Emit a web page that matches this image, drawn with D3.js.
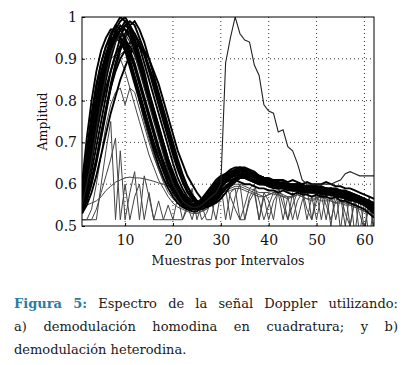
<!DOCTYPE html>
<html>
<head>
<meta charset="utf-8">
<script src="https://cdn.jsdelivr.net/npm/d3@7"></script>
<style>
  body { margin: 0; background: #fff; }
  text { font-family: "DejaVu Serif", serif; }
</style>
</head>
<body>
<div id="chart-area"></div>
<script>

var width = 405,
    height = 365;

// axis setup
var xDomain = [1, 62];
var yDomain = [0.5, 1];
var xTicks = [10, 20, 30, 40, 50, 60];
var yTicks = [0.5, 0.6, 0.7, 0.8, 0.9, 1];
var yTickLabels = ["0.5", "0.6", "0.7", "0.8", "0.9", "1"];

// main bundle of spectra (one value per sample, samples 1..62)
var band1 = [0.58,0.68,0.77,0.84,0.89,0.93,0.95,0.95,0.94,0.92,
  0.89,0.85,0.81,0.77,0.73,0.69,0.66,0.63,0.60,0.58,
  0.565,0.555,0.55,0.55,0.555,0.565,0.58,0.595,0.61,0.62,
  0.625,0.63,0.63,0.625,0.62,0.615,0.61,0.605,0.60,0.60,
  0.60,0.595,0.595,0.59,0.59,0.59,0.59,0.59,0.585,0.585,
  0.585,0.58,0.58,0.58,0.575,0.575,0.57,0.57,0.565,0.56,
  0.555,0.55];
var band2 = [0.56,0.63,0.71,0.78,0.84,0.89,0.93,0.96,0.98,0.97,
  0.95,0.92,0.88,0.84,0.80,0.76,0.72,0.68,0.64,0.61,
  0.585,0.565,0.55,0.545,0.545,0.55,0.56,0.575,0.59,0.60,
  0.61,0.62,0.625,0.625,0.62,0.615,0.61,0.605,0.60,0.60,
  0.595,0.595,0.59,0.59,0.59,0.585,0.585,0.59,0.59,0.585,
  0.585,0.58,0.58,0.575,0.575,0.57,0.57,0.565,0.56,0.56,
  0.555,0.545];
var band3 = [0.55,0.61,0.68,0.75,0.82,0.88,0.93,0.97,0.99,1.0,
  0.98,0.95,0.91,0.87,0.82,0.78,0.74,0.70,0.66,0.62,
  0.595,0.575,0.56,0.55,0.545,0.55,0.555,0.565,0.58,0.595,
  0.605,0.615,0.62,0.625,0.625,0.62,0.615,0.61,0.605,0.60,
  0.60,0.60,0.595,0.595,0.59,0.59,0.59,0.59,0.59,0.59,
  0.585,0.585,0.585,0.58,0.58,0.575,0.575,0.57,0.565,0.56,
  0.55,0.54];
var band4 = [0.53,0.56,0.60,0.65,0.71,0.77,0.83,0.88,0.92,0.95,
  0.97,0.96,0.94,0.91,0.87,0.83,0.79,0.75,0.71,0.67,
  0.635,0.605,0.58,0.565,0.555,0.55,0.55,0.555,0.565,0.58,
  0.59,0.60,0.61,0.615,0.62,0.62,0.615,0.61,0.605,0.60,
  0.60,0.595,0.595,0.59,0.59,0.59,0.585,0.585,0.585,0.58,
  0.58,0.58,0.58,0.575,0.575,0.57,0.57,0.565,0.56,0.555,
  0.55,0.54];
var band5 = [0.54,0.57,0.61,0.66,0.72,0.78,0.83,0.87,0.90,0.92,
  0.94,0.94,0.93,0.91,0.88,0.85,0.81,0.77,0.73,0.69,
  0.65,0.62,0.595,0.575,0.56,0.55,0.545,0.55,0.56,0.575,
  0.59,0.605,0.615,0.625,0.63,0.63,0.625,0.62,0.615,0.61,
  0.605,0.60,0.60,0.595,0.595,0.59,0.59,0.59,0.59,0.59,
  0.59,0.585,0.585,0.585,0.58,0.58,0.575,0.57,0.57,0.565,
  0.56,0.555];
var band6 = [0.60,0.71,0.80,0.87,0.92,0.95,0.97,0.97,0.95,0.92,
  0.88,0.84,0.80,0.76,0.72,0.68,0.645,0.615,0.59,0.57,
  0.555,0.545,0.54,0.54,0.545,0.555,0.57,0.585,0.60,0.61,
  0.615,0.62,0.62,0.62,0.615,0.61,0.605,0.60,0.60,0.595,
  0.595,0.59,0.59,0.59,0.585,0.585,0.585,0.58,0.58,0.58,
  0.58,0.575,0.575,0.575,0.57,0.57,0.565,0.56,0.56,0.555,
  0.55,0.545];
var band7 = [0.54,0.59,0.65,0.72,0.79,0.85,0.90,0.94,0.97,0.99,
  0.98,0.96,0.93,0.89,0.85,0.81,0.77,0.73,0.69,0.65,
  0.615,0.59,0.57,0.56,0.555,0.555,0.56,0.57,0.585,0.60,
  0.615,0.625,0.635,0.64,0.64,0.635,0.63,0.62,0.615,0.61,
  0.605,0.605,0.60,0.60,0.60,0.60,0.595,0.595,0.595,0.595,
  0.59,0.59,0.59,0.585,0.585,0.58,0.58,0.575,0.57,0.565,
  0.56,0.55];
var band8 = [0.57,0.64,0.72,0.79,0.85,0.90,0.93,0.95,0.95,0.94,
  0.91,0.88,0.84,0.80,0.76,0.72,0.68,0.645,0.615,0.59,
  0.57,0.555,0.545,0.54,0.54,0.545,0.555,0.57,0.585,0.595,
  0.605,0.61,0.615,0.615,0.615,0.61,0.605,0.60,0.60,0.595,
  0.59,0.59,0.59,0.585,0.585,0.585,0.58,0.58,0.58,0.58,
  0.58,0.575,0.575,0.57,0.57,0.565,0.565,0.56,0.555,0.55,
  0.545,0.535];
var band9 = [0.55,0.58,0.63,0.69,0.75,0.81,0.87,0.91,0.95,0.98,
  0.99,0.98,0.95,0.92,0.88,0.84,0.80,0.76,0.72,0.68,
  0.64,0.61,0.585,0.57,0.56,0.555,0.555,0.56,0.575,0.59,
  0.605,0.615,0.625,0.63,0.635,0.63,0.625,0.62,0.615,0.61,
  0.61,0.605,0.605,0.60,0.60,0.60,0.60,0.595,0.595,0.595,
  0.595,0.59,0.59,0.59,0.585,0.585,0.58,0.575,0.57,0.565,
  0.56,0.555];
var band10 = [0.53,0.55,0.58,0.62,0.67,0.72,0.77,0.81,0.85,0.88,
  0.91,0.93,0.93,0.92,0.90,0.87,0.84,0.80,0.76,0.72,
  0.68,0.65,0.62,0.60,0.58,0.565,0.555,0.55,0.555,0.565,
  0.58,0.595,0.605,0.615,0.62,0.625,0.625,0.62,0.615,0.61,
  0.605,0.60,0.60,0.60,0.595,0.595,0.595,0.59,0.59,0.59,
  0.59,0.59,0.585,0.585,0.58,0.58,0.575,0.575,0.57,0.56,
  0.555,0.55];
var band11 = [0.57,0.65,0.73,0.80,0.86,0.91,0.94,0.96,0.96,0.95,
  0.92,0.89,0.85,0.81,0.77,0.73,0.69,0.655,0.625,0.60,
  0.58,0.56,0.55,0.545,0.545,0.55,0.56,0.575,0.59,0.605,
  0.615,0.625,0.63,0.635,0.635,0.63,0.625,0.62,0.615,0.61,
  0.605,0.60,0.60,0.60,0.595,0.595,0.59,0.59,0.59,0.59,
  0.585,0.585,0.585,0.58,0.58,0.575,0.575,0.57,0.565,0.56,
  0.555,0.55];
var band12 = [0.56,0.61,0.67,0.74,0.81,0.87,0.92,0.95,0.97,0.98,
  0.97,0.94,0.90,0.86,0.82,0.78,0.74,0.70,0.66,0.63,
  0.60,0.58,0.565,0.555,0.55,0.55,0.555,0.565,0.58,0.595,
  0.61,0.62,0.63,0.635,0.635,0.63,0.62,0.615,0.61,0.605,
  0.60,0.60,0.60,0.595,0.595,0.59,0.59,0.59,0.59,0.585,
  0.585,0.585,0.58,0.58,0.58,0.575,0.57,0.57,0.565,0.56,
  0.55,0.545];
var band13 = [0.55,0.62,0.69,0.76,0.83,0.88,0.92,0.95,0.97,0.97,
  0.96,0.93,0.89,0.85,0.81,0.77,0.73,0.69,0.65,0.62,
  0.59,0.57,0.555,0.55,0.55,0.555,0.565,0.58,0.595,0.61,
  0.62,0.63,0.635,0.64,0.635,0.63,0.625,0.62,0.615,0.615,
  0.61,0.61,0.61,0.605,0.61,0.605,0.60,0.605,0.60,0.60,
  0.60,0.605,0.60,0.595,0.595,0.59,0.59,0.585,0.58,0.575,
  0.57,0.565];
var band14 = [0.58,0.66,0.74,0.81,0.87,0.91,0.94,0.96,0.95,0.93,
  0.90,0.86,0.82,0.78,0.74,0.70,0.665,0.635,0.605,0.585,
  0.565,0.55,0.54,0.535,0.535,0.545,0.555,0.57,0.585,0.60,
  0.605,0.61,0.61,0.605,0.60,0.60,0.595,0.59,0.59,0.585,
  0.585,0.58,0.585,0.58,0.575,0.58,0.575,0.575,0.57,0.575,
  0.57,0.57,0.565,0.57,0.56,0.56,0.555,0.55,0.545,0.54,
  0.53,0.52];
var band15 = [0.54,0.57,0.61,0.66,0.72,0.78,0.84,0.89,0.93,0.96,
  0.98,0.99,0.97,0.94,0.90,0.86,0.82,0.78,0.74,0.70,
  0.66,0.625,0.595,0.575,0.56,0.55,0.545,0.55,0.56,0.575,
  0.59,0.60,0.61,0.62,0.625,0.625,0.62,0.615,0.61,0.61,
  0.605,0.60,0.605,0.60,0.595,0.60,0.595,0.59,0.595,0.59,
  0.59,0.585,0.59,0.585,0.58,0.58,0.575,0.57,0.565,0.56,
  0.55,0.545];
var band16 = [0.57,0.66,0.75,0.83,0.89,0.93,0.96,0.98,0.97,0.95,
  0.92,0.88,0.84,0.80,0.76,0.72,0.68,0.65,0.62,0.595,
  0.575,0.56,0.55,0.545,0.55,0.56,0.575,0.59,0.605,0.615,
  0.625,0.635,0.64,0.64,0.635,0.63,0.62,0.615,0.61,0.605,
  0.605,0.60,0.60,0.595,0.595,0.595,0.59,0.595,0.59,0.59,
  0.585,0.59,0.585,0.58,0.58,0.575,0.57,0.565,0.56,0.55,
  0.545,0.535];
var band17 = [0.55,0.60,0.66,0.72,0.78,0.83,0.87,0.91,0.93,0.94,
  0.93,0.91,0.88,0.84,0.80,0.76,0.72,0.68,0.645,0.615,
  0.59,0.57,0.555,0.545,0.54,0.54,0.545,0.555,0.57,0.585,
  0.595,0.605,0.61,0.615,0.615,0.61,0.605,0.60,0.60,0.595,
  0.595,0.59,0.59,0.59,0.585,0.585,0.58,0.585,0.58,0.58,
  0.575,0.575,0.575,0.57,0.57,0.565,0.56,0.56,0.555,0.55,
  0.54,0.53];
var band18 = [0.56,0.64,0.72,0.80,0.86,0.91,0.95,0.98,1.0,0.99,
  0.97,0.93,0.89,0.85,0.81,0.77,0.73,0.69,0.65,0.615,
  0.59,0.57,0.555,0.55,0.55,0.555,0.565,0.58,0.595,0.605,
  0.615,0.625,0.63,0.63,0.63,0.625,0.62,0.615,0.61,0.605,
  0.60,0.605,0.60,0.60,0.595,0.60,0.595,0.59,0.59,0.59,
  0.59,0.585,0.585,0.58,0.585,0.58,0.575,0.575,0.57,0.56,
  0.555,0.55];

// odd spectra
var spike33 = [0.55,0.60,0.66,0.73,0.80,0.86,0.91,0.94,0.96,0.96,
  0.94,0.91,0.87,0.83,0.79,0.75,0.71,0.67,0.63,0.60,
  0.58,0.56,0.55,0.545,0.545,0.55,0.56,0.57,0.58,0.60,
  0.89,0.95,1.0,0.96,0.945,0.94,0.885,0.86,0.79,0.775,
  0.77,0.725,0.73,0.69,0.68,0.65,0.61,0.60,0.60,0.60,
  0.60,0.60,0.60,0.605,0.61,0.625,0.63,0.625,0.62,0.62,
  0.62,0.62];
var peak92 = [0.53,0.56,0.60,0.65,0.71,0.77,0.83,0.88,0.91,0.92,
  0.89,0.85,0.80,0.75,0.71,0.67,0.635,0.605,0.58,0.565,
  0.555,0.545,0.54,0.535,0.535,0.54,0.55,0.56,0.57,0.58,
  0.59,0.595,0.60,0.60,0.595,0.59,0.585,0.58,0.58,0.58,
  0.575,0.575,0.57,0.57,0.57,0.575,0.57,0.565,0.565,0.565,
  0.56,0.56,0.56,0.555,0.555,0.55,0.55,0.545,0.54,0.535,
  0.53,0.525];
var peak83 = [0.515,0.515,0.54,0.60,0.67,0.74,0.79,0.82,0.83,0.79,
  0.83,0.82,0.78,0.74,0.70,0.665,0.635,0.61,0.59,0.575,
  0.56,0.55,0.54,0.535,0.53,0.535,0.54,0.55,0.56,0.57,
  0.58,0.585,0.59,0.59,0.585,0.58,0.575,0.57,0.57,0.575,
  0.58,0.575,0.57,0.565,0.57,0.575,0.57,0.565,0.56,0.565,
  0.57,0.565,0.56,0.555,0.56,0.555,0.55,0.545,0.54,0.535,
  0.53,0.52];
var flat60 = [0.54,0.55,0.555,0.56,0.57,0.585,0.595,0.605,0.61,0.615,
  0.617,0.615,0.615,0.613,0.61,0.607,0.603,0.60,0.595,0.59,
  0.585,0.575,0.565,0.55,0.54,0.535,0.54,0.55,0.56,0.575,
  0.585,0.59,0.595,0.595,0.59,0.585,0.58,0.575,0.57,0.575,
  0.58,0.58,0.575,0.57,0.57,0.575,0.58,0.575,0.57,0.57,
  0.575,0.57,0.565,0.565,0.56,0.555,0.555,0.55,0.545,0.54,
  0.535,0.53];
var noisy1 = [0.515,0.515,0.515,0.515,0.60,0.68,0.75,0.515,0.68,0.515,
  0.58,0.63,0.515,0.62,0.57,0.515,0.56,0.515,0.515,0.515,
  0.515,0.515,0.55,0.515,0.56,0.515,0.53,0.56,0.515,0.58,
  0.59,0.515,0.57,0.60,0.515,0.56,0.58,0.515,0.57,0.515,
  0.56,0.58,0.515,0.57,0.515,0.56,0.58,0.515,0.57,0.515,
  0.575,0.515,0.58,0.515,0.57,0.50,0.58,0.48,0.57,0.49,
  0.57,0.48];
var noisy2 = [0.515,0.515,0.515,0.54,0.58,0.62,0.66,0.71,0.515,0.60,
  0.515,0.57,0.60,0.515,0.58,0.515,0.515,0.515,0.55,0.515,
  0.57,0.515,0.54,0.59,0.515,0.55,0.515,0.515,0.58,0.60,
  0.515,0.58,0.59,0.515,0.515,0.57,0.59,0.515,0.58,0.56,
  0.515,0.59,0.57,0.515,0.58,0.515,0.56,0.59,0.515,0.58,
  0.515,0.58,0.50,0.59,0.49,0.58,0.50,0.57,0.48,0.56,
  0.47,0.55];
var noisy3 = [0.56,0.62,0.69,0.76,0.82,0.87,0.90,0.91,0.90,0.87,
  0.83,0.79,0.75,0.71,0.67,0.64,0.61,0.59,0.57,0.555,
  0.545,0.54,0.535,0.53,0.53,0.535,0.545,0.56,0.575,0.59,
  0.60,0.57,0.54,0.515,0.55,0.59,0.60,0.56,0.515,0.55,
  0.58,0.59,0.55,0.515,0.55,0.58,0.585,0.54,0.515,0.56,
  0.58,0.55,0.515,0.56,0.575,0.53,0.50,0.56,0.53,0.49,
  0.55,0.50];

var bandSeries = [band1, band2, band3, band4, band5, band6,
                  band7, band8, band9, band10, band11, band12,
                  band13, band14, band15, band16, band17, band18];
var greySeries = [peak92, peak83, flat60, noisy1, noisy2, noisy3];

var captionLines = ["Espectro de la señal Doppler utilizando:",
                    "a) demodulación homodina en cuadratura; y b)",
                    "demodulación heterodina."];

var margin = {left: 82, top: 17, right: 31, bottom: 139};
var plotW = width - margin.left - margin.right,
    plotH = height - margin.top - margin.bottom;

var svg = d3.select("#chart-area").append("svg")
    .attr("width", width)
    .attr("height", height);

var g = svg.append("g")
    .attr("transform", "translate(" + margin.left + "," + margin.top + ")");

var x = d3.scaleLinear().domain(xDomain).range([0, plotW]);
var y = d3.scaleLinear().domain(yDomain).range([plotH, 0]);

g.append("clipPath").attr("id", "plot-clip")
  .append("rect").attr("width", plotW).attr("height", plotH);

// dotted grid
g.selectAll(".vgrid").data(xTicks).enter().append("line")
    .attr("x1", d => x(d)).attr("x2", d => x(d))
    .attr("y1", 0).attr("y2", plotH)
    .style("stroke", "#333").style("stroke-width", 1)
    .style("stroke-dasharray", "1,3");
g.selectAll(".hgrid").data(yTicks.slice(1, -1)).enter().append("line")
    .attr("x1", 0).attr("x2", plotW)
    .attr("y1", d => y(d)).attr("y2", d => y(d))
    .style("stroke", "#333").style("stroke-width", 1)
    .style("stroke-dasharray", "1,3");

var line = d3.line()
    .x((d, i) => x(i + 1))
    .y(d => y(d));

var lines = g.append("g").attr("clip-path", "url(#plot-clip)");

lines.selectAll(".grey").data(greySeries).enter().append("path")
    .attr("d", line)
    .style("fill", "none")
    .style("stroke", "#444")
    .style("stroke-width", 1);

lines.selectAll(".band").data(bandSeries).enter().append("path")
    .attr("d", line)
    .style("fill", "none")
    .style("stroke", "#000")
    .style("stroke-width", 1.9);

lines.append("path").datum(spike33)
    .attr("d", line)
    .style("fill", "none")
    .style("stroke", "#222")
    .style("stroke-width", 1.1);

// axes
var xAxis = d3.axisBottom(x).tickValues(xTicks).tickSize(-3).tickPadding(9);
var yAxis = d3.axisLeft(y).tickValues(yTicks).tickSize(-3).tickPadding(5)
    .tickFormat((d, i) => yTickLabels[i]);

var gx = g.append("g").attr("transform", "translate(0," + plotH + ")").call(xAxis);
var gy = g.append("g").call(yAxis);
[gx, gy].forEach(function(a) {
  a.select(".domain").remove();
  a.selectAll("text").style("font-family", "DejaVu Serif").style("font-size", "14px").style("fill", "#111");
  a.selectAll("line").style("stroke", "#000");
});

g.append("rect")
    .attr("width", plotW).attr("height", plotH)
    .style("fill", "none").style("stroke", "#000").style("stroke-width", 1);

// axis labels
g.append("text")
    .attr("x", plotW / 2).attr("y", plotH + 39)
    .attr("text-anchor", "middle")
    .style("font-size", "12.5px").style("fill", "#111")
    .text("Muestras por Intervalos");

g.append("text")
    .attr("transform", "translate(-35," + (plotH / 2) + ") rotate(-90)")
    .attr("text-anchor", "middle")
    .style("font-size", "12.5px").style("fill", "#111")
    .text("Amplitud");

// caption, justified like the paper
var capLeft = 14, capRight = 398, capSize = 13;
var baselines = [308, 331, 354];

function justify(words, yb, justified) {
  var nodes = words.map(function(w) {
    return svg.append("text").attr("y", yb)
      .style("font-family", "DejaVu Serif")
      .style("font-size", capSize + "px")
      .style("fill", w.head ? "#2b7ba6" : "#1a1a1a")
      .style("font-weight", w.head ? "bold" : "normal")
      .text(w.text);
  });
  var widths = nodes.map(n => n.node().getComputedTextLength());
  var total = d3.sum(widths);
  var gap = justified ? (capRight - capLeft - total) / (nodes.length - 1) : capSize * 0.32;
  var cx = capLeft;
  nodes.forEach(function(n, i) {
    n.attr("x", cx);
    cx += widths[i] + gap;
  });
}

var first = [{text: "Figura", head: true}, {text: "5:", head: true}]
  .concat(captionLines[0].split(" ").map(w => ({text: w})));
justify(first, baselines[0], true);
justify(captionLines[1].split(" ").map(w => ({text: w})), baselines[1], true);
justify(captionLines[2].split(" ").map(w => ({text: w})), baselines[2], false);

</script>
</body>
</html>
